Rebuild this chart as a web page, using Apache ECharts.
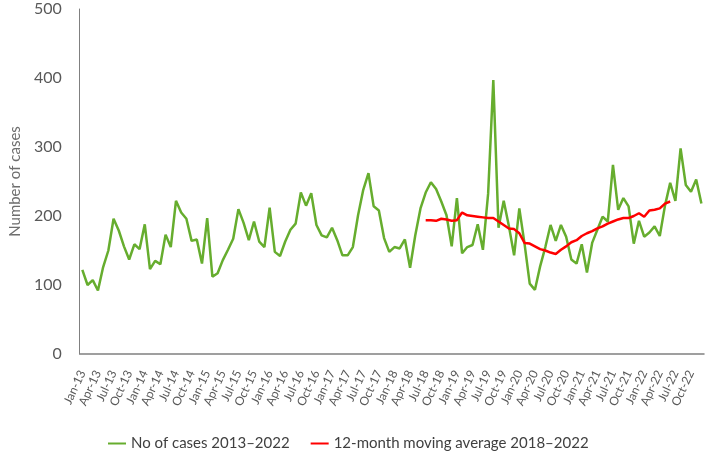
<!DOCTYPE html>
<html>
<head>
<meta charset="utf-8">
<script src="https://cdn.jsdelivr.net/npm/echarts@6/dist/echarts.min.js"></script>
<style>html,body{margin:0;padding:0;background:#fff}#c{width:709px;height:464px}</style>
</head>
<body>
<div id="c"></div>
<script>
const months = ['Jan','Feb','Mar','Apr','May','Jun','Jul','Aug','Sep','Oct','Nov','Dec'];
const years = ['13','14','15','16','17','18','19','20','21','22'];
const cases = [
 122,100,107,92,126,150,196,179,156,137,159,152,
 188,123,135,130,173,155,222,205,196,164,166,131,
 197,112,117,136,151,167,210,190,165,192,163,155,
 212,148,142,163,180,189,234,215,233,187,172,169,
 183,165,143,143,155,201,238,262,214,208,168,148,
 155,153,166,125,172,211,234,249,239,221,201,156,
 226,146,155,158,188,151,232,397,183,222,185,143,
 211,160,102,93,127,155,187,164,187,170,137,131,
 159,118,161,180,199,192,274,209,226,214,160,193,
 170,176,185,171,215,248,222,298,245,235,253,218
];
const maStartLabel = 'Jul-18';
const movingAvg = [
 194,194,193,196,195,193,194,205,201,200,199,198,197,197,
 192,187,182,181,175,161,160,156,152,150,
 147,145,151,156,162,165,171,175,178,182,
 185,189,192,195,197,197,200,204,199,208,209,211,218,221
];
const yTicks = [0,100,200,300,400,500];

const categories = [];
years.forEach(y => months.forEach(m => categories.push(m + '-' + y)));
const start = categories.indexOf(maStartLabel);
const maSeries = categories.map((c, i) => (i >= start && i < start + movingAvg.length) ? movingAvg[i - start] : null);

const chart = echarts.init(document.getElementById('c'));
chart.setOption({
  animation: false,
  textStyle: {fontFamily: 'Lato'},
  grid: {left: 72, right: 5, top: 9, bottom: 110, containLabel: false},
  legend: {
    bottom: 8, left: 103, itemGap: 21, itemWidth: 18, itemHeight: 2, icon: 'rect',
    textStyle: {fontFamily: 'Lato', fontSize: 15, color: '#404040'},
    data: ['No of cases 2013\u20132022', '12-month moving average 2018\u20132022']
  },
  xAxis: {
    type: 'category', data: categories, boundaryGap: true,
    axisLine: {lineStyle: {color: '#808080', width: 1.5}},
    axisTick: {show: false},
    axisLabel: {interval: 2, rotate: 65, fontSize: 12, color: '#595959', fontFamily: 'Lato', margin: 17}
  },
  yAxis: {
    type: 'value', min: yTicks[0], max: yTicks[yTicks.length-1], interval: 100,
    name: 'Number of cases', nameLocation: 'middle', nameGap: 56,
    nameTextStyle: {fontSize: 15, color: '#6e6e6e', fontFamily: 'Lato'},
    axisLine: {show: true, lineStyle: {color: '#808080', width: 1}},
    axisTick: {show: false},
    splitLine: {show: false},
    axisLabel: {fontSize: 16, color: '#595959', fontFamily: 'Lato', margin: 18}
  },
  series: [
    {name: 'No of cases 2013\u20132022', type: 'line', data: cases, showSymbol: false, symbol: 'none',
     lineStyle: {color: '#66ad2e', width: 2.5}, itemStyle: {color: '#66ad2e'}},
    {name: '12-month moving average 2018\u20132022', type: 'line', data: maSeries, showSymbol: false, symbol: 'none',
     lineStyle: {color: '#ff0000', width: 2.5}, itemStyle: {color: '#ff0000'}}
  ]
});
</script>
</body>
</html>
